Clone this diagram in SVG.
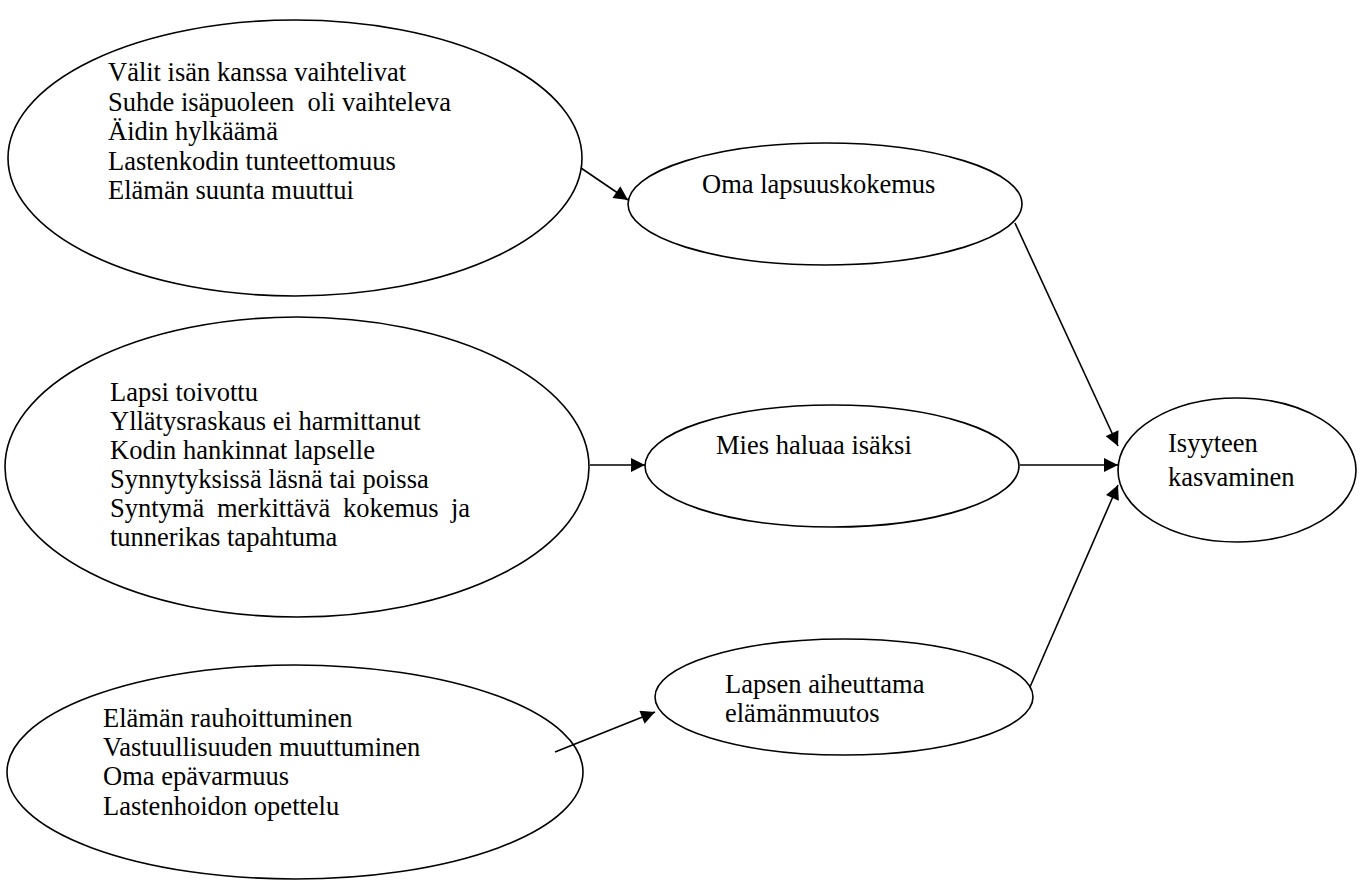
<svg xmlns="http://www.w3.org/2000/svg" width="1364" height="881" viewBox="0 0 1364 881">
<style>
.n{fill:#fff;stroke:#000;stroke-width:1.6}
.t{font-family:"Liberation Serif","Times New Roman",serif;font-size:26.5px;fill:#000}
.c{stroke:#000;stroke-width:1.6;fill:none;marker-end:url(#ah)}
</style>
<defs>
<marker id="ah" viewBox="0 0 10 10" refX="10" refY="5" markerWidth="15" markerHeight="14" markerUnits="userSpaceOnUse" orient="auto"><path d="M0,0L10,5L0,10z" fill="#000"/></marker>
</defs>
<rect width="1364" height="881" fill="#fff"/>
<g id="n1"><ellipse class="n" cx="295" cy="158" rx="287" ry="138"/>
<text class="t"><tspan x="108" y="81">Välit isän kanssa vaihtelivat</tspan><tspan x="108" y="110.5">Suhde isäpuoleen&#160; oli vaihteleva</tspan><tspan x="108" y="140">Äidin hylkäämä</tspan><tspan x="108" y="169.5">Lastenkodin tunteettomuus</tspan><tspan x="108" y="199">Elämän suunta muuttui</tspan></text></g>
<g id="n2"><ellipse class="n" cx="825" cy="204" rx="197" ry="61"/>
<text class="t" x="702" y="193">Oma lapsuuskokemus</text></g>
<g id="n3"><ellipse class="n" cx="297" cy="467" rx="292" ry="150"/>
<text class="t"><tspan x="110" y="401">Lapsi toivottu</tspan><tspan x="110" y="430">Yllätysraskaus ei harmittanut</tspan><tspan x="110" y="459">Kodin hankinnat lapselle</tspan><tspan x="110" y="488">Synnytyksissä läsnä tai poissa</tspan><tspan x="110" y="517">Syntymä</tspan><tspan x="217" y="517">merkittävä</tspan><tspan x="343" y="517">kokemus</tspan><tspan x="451" y="517">ja</tspan><tspan x="110" y="546">tunnerikas tapahtuma</tspan></text></g>
<g id="n4"><ellipse class="n" cx="832" cy="466" rx="187" ry="61"/>
<text class="t" x="716" y="454">Mies haluaa isäksi</text></g>
<g id="n5"><ellipse class="n" cx="1237" cy="470" rx="119" ry="72"/>
<text class="t"><tspan x="1168" y="452">Isyyteen</tspan><tspan x="1168" y="486">kasvaminen</tspan></text></g>
<g id="n6"><ellipse class="n" cx="295" cy="772" rx="288" ry="107"/>
<text class="t"><tspan x="103" y="727">Elämän rauhoittuminen</tspan><tspan x="103" y="756">Vastuullisuuden muuttuminen</tspan><tspan x="103" y="785">Oma epävarmuus</tspan><tspan x="103" y="815">Lastenhoidon opettelu</tspan></text></g>
<g id="n7"><ellipse class="n" cx="844" cy="697" rx="189" ry="58"/>
<text class="t"><tspan x="725" y="693">Lapsen aiheuttama</tspan><tspan x="725" y="722">elämänmuutos</tspan></text></g>
<g id="connectors">
<line class="c" x1="581" y1="168" x2="628" y2="200"/>
<line class="c" x1="590" y1="465" x2="645" y2="465"/>
<line class="c" x1="555" y1="752" x2="655" y2="712"/>
<line class="c" x1="1015" y1="223" x2="1118" y2="446"/>
<line class="c" x1="1020" y1="465" x2="1118" y2="465"/>
<line class="c" x1="1030" y1="687" x2="1118" y2="485"/>
</g>
</svg>
